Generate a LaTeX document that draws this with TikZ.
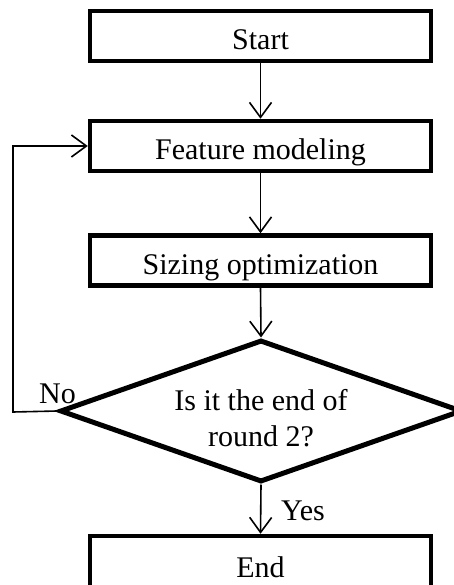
\documentclass[tikz,border=0pt]{standalone}
\usepackage{fontspec}
\setmainfont{Liberation Serif}
\usetikzlibrary{arrows.meta,shapes.geometric}
\begin{document}
\begin{tikzpicture}[x=1pt,y=-1pt,
  every node/.style={font=\fontsize{30}{36}\selectfont},
  stepbox/.style={draw,line width=4.5pt,minimum width=341pt,minimum height=50pt,inner sep=0pt,text height=28pt,text depth=0pt},
  decbox/.style={draw,diamond,line width=5pt,minimum width=402pt,minimum height=142pt,inner sep=0pt},
  conn/.style={line width=1.6pt,-{Straight Barb[length=15pt,width=22pt,line width=1.6pt]}},
  lbl/.style={inner sep=0pt}]
\useasboundingbox (0,0) rectangle (454,585);
\node[stepbox] (start) at (260.5,36) {Start};
\node[stepbox] (feat) at (260.5,146) {Feature modeling};
\node[stepbox] (size) at (260.5,260.5) {Sizing optimization};
\node[decbox] (dec) at (261,411) {};
\node[align=center,inner sep=0pt] (dectext) at (261,418) {Is it the end of\\round 2?};
\node[stepbox,minimum height=54pt] (end) at (260.5,563) {End};
\coordinate (lp) at (13,412);
\draw[conn] (start.south) -- (feat.north);
\draw[conn] (feat.south) -- (size.north);
\draw[conn] (size.south) -- (dec.north);
\draw[conn] (dec.south) -- (end.north);
\draw[conn] (dec.west) -- (lp) |- (feat.west);
\node[lbl,anchor=base west] (yes) at (281,520) {Yes};
\node[lbl,anchor=base west] (no) at (39,403) {No};
\end{tikzpicture}
\end{document}
